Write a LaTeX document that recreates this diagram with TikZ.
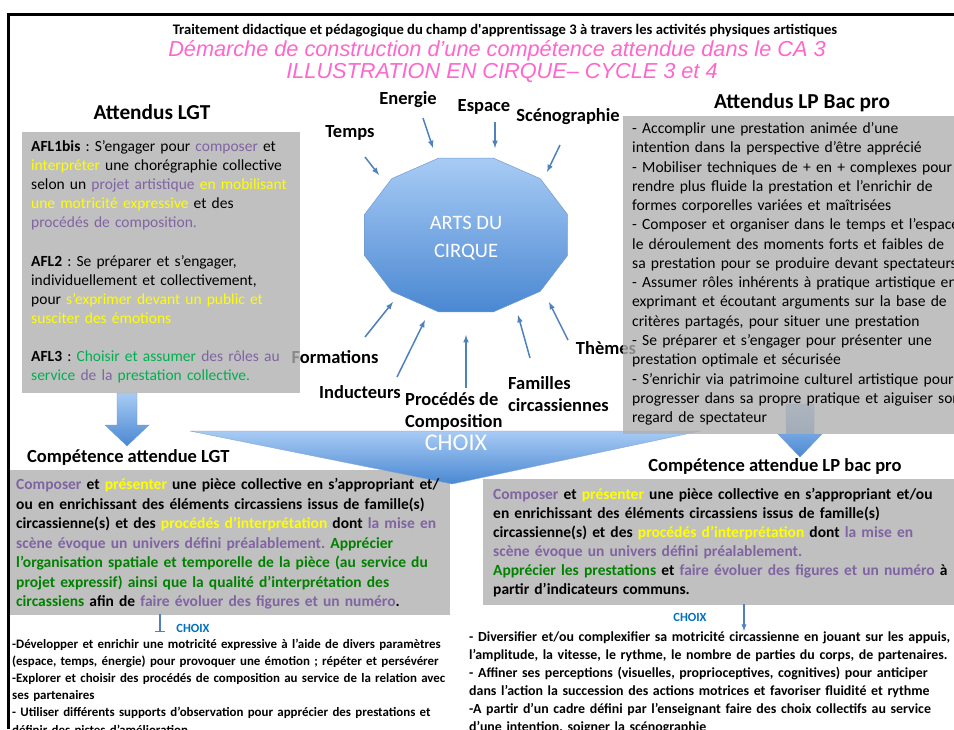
\documentclass[tikz,border=0pt]{standalone}
\usepackage{fontspec}
\setmainfont{Carlito}
\newfontfamily\arialit{Liberation Sans}
\usetikzlibrary{calc,positioning,arrows}
\frenchspacing

\definecolor{violetc}{RGB}{128,100,162}
\definecolor{jaunec}{RGB}{255,255,0}
\definecolor{vertc}{RGB}{0,176,80}
\definecolor{vertf}{RGB}{0,130,0}
\definecolor{rosec}{RGB}{255,102,204}
\definecolor{bleuc}{RGB}{0,112,192}
\definecolor{bleuf}{RGB}{79,129,189}
\definecolor{bleuclair}{RGB}{168,203,245}
\definecolor{bleumoyen}{RGB}{74,136,210}
\definecolor{grisboite}{RGB}{175,175,175}

\newcommand{\vio}[1]{\textcolor{violetc}{#1}}
\newcommand{\jau}[1]{\textcolor{jaunec}{#1}}
\newcommand{\ver}[1]{\textcolor{vertc}{#1}}
\newcommand{\verf}[1]{\textcolor{vertf}{#1}}
% fleche bloc vers le bas : x, haut, debut pointe, bout, largeur tige, largeur pointe
\newcommand{\flechebloc}[6]
	{
	\shade[top color=bleuclair,bottom color=bleumoyen,draw=bleuf!80,line width=0.4pt]
	(#1-#5/2,#2) -- (#1+#5/2,#2) -- (#1+#5/2,#3) -- (#1+#6/2,#3) -- (#1,#4)
	-- (#1-#6/2,#3) -- (#1-#5/2,#3) -- cycle;
	}

\tikzset{
	boite/.style={fill=grisboite,fill opacity=0.79},
	etiquette/.style={font=\fontsize{18.5}{22}\selectfont\bfseries,inner sep=0pt},
	titrebloc/.style={font=\fontsize{18.5}{21}\selectfont\bfseries,inner sep=0pt},
	grandtitre/.style={font=\fontsize{21.3}{24}\selectfont\bfseries,inner sep=0pt},
	fleche/.style={-latex,line width=1.5pt,draw=bleuf},
	corps/.style={align=left,anchor=base west,inner sep=0pt},
}

\begin{document}
\begin{tikzpicture}[x=1pt,y=-1pt]
\useasboundingbox (0,0) rectangle (954,729);

% cadre
\draw[line width=3pt] (8,729) -- (8,14) -- (954,14);

% en-tete
\node[font=\fontsize{14.6}{16}\selectfont\bfseries] (entete) at (505,31)
	{Traitement didactique et pédagogique du champ d\textquotesingle apprentissage 3 à travers les activités physiques artistiques};
\node[font=\arialit\itshape\fontsize{21.7}{24}\selectfont,text=rosec] (titre) at (497,51)
	{Démarche de construction d’une compétence attendue dans le CA 3};
\node[font=\arialit\itshape\fontsize{21.7}{24}\selectfont,text=rosec] (soustitre) at (502,73)
	{ILLUSTRATION EN CIRQUE– CYCLE 3 et 4};

% le polygone central
\shade[top color=bleuclair,bottom color=bleumoyen,draw=bleuf!80,line width=0.5pt]
	plot[samples=13,domain=15:375] ({466+105*cos(\x)},{235-79.7*sin(\x)}) -- cycle;
\node[text=white,font=\fontsize{20.5}{28}\selectfont,align=center] (cirque) at (466,238) {ARTS DU\\CIRQUE};

% les parametres autour
\node[etiquette] (temps) at (350,133) {Temps};
\node[etiquette] (energie) at (408,100) {Energie};
\node[etiquette] (espace) at (484,107) {Espace};
\node[etiquette] (sceno) at (568,117) {Scénographie};
\node[etiquette] (formations) at (335,357) {Formations};
\node[etiquette] (inducteurs) at (360,392) {Inducteurs};
\node[etiquette,align=left,anchor=west] (procedes) at (405,411) {Procédés de\\Composition};
\node[etiquette,align=left,anchor=west] (familles) at (508,394) {Familles\\circassiennes};
\node[etiquette] (themes) at (606,348) {Thèmes};

% les fleches vers le polygone
\coordinate (t1) at (365,157); \coordinate (t2) at (379,175);
\coordinate (e1) at (423,118); \coordinate (e2) at (433,148);
\coordinate (s1) at (495,122); \coordinate (s2) at (495,148);
\coordinate (g1) at (560,145); \coordinate (g2) at (547,172);
\coordinate (f1) at (365,337); \coordinate (f2) at (393,302);
\coordinate (i1) at (397,377); \coordinate (i2) at (425,320);
\coordinate (p1) at (466,388); \coordinate (p2) at (466,335);
\coordinate (c1) at (530,358); \coordinate (c2) at (518,315);
\coordinate (h1) at (568,340); \coordinate (h2) at (549,302);
\draw[fleche] (t1) -- (t2);
\draw[fleche] (e1) -- (e2);
\draw[fleche] (s1) -- (s2);
\draw[fleche] (g1) -- (g2);
\draw[fleche] (f1) -- (f2);
\draw[fleche] (i1) -- (i2);
\draw[fleche] (p1) -- (p2);
\draw[fleche] (c1) -- (c2);
\draw[fleche] (h1) -- (h2);

% competences attendues (fonds)
\fill[boite] (10,470) rectangle (450,615);
\fill[boite] (483,479) rectangle (954,605);

% grande fleche CHOIX
\shade[top color=bleuclair,bottom color=bleumoyen,draw=bleuf!70,line width=0.4pt]
	(190,431) -- (700,431) -- (452,484) -- cycle;
\node[text=white,font=\fontsize{24}{28}\selectfont] (choix) at (456,443) {CHOIX};

% fleches blocs
\flechebloc{127}{393}{425}{446}{20}{44}
\flechebloc{800}{404}{434}{457}{28}{44}

% attendus (fonds)
\fill[boite] (22,132) rectangle (300,393);
\fill[boite] (623,116) rectangle (954,434);

% titres
\node[grandtitre] (attlgt) at (152,112) {Attendus LGT};
\node[grandtitre] (attlp) at (802,103) {Attendus LP Bac pro};
\node[titrebloc,anchor=west] (complgt) at (27,457) {Compétence attendue LGT};
\node[titrebloc] (complp) at (775,466) {Compétence attendue LP bac pro};

% textes des attendus
\node[corps,text width=320pt,font=\fontsize{15.5}{19.1}\selectfont] (afl) at (31,151.5)
	{\textbf{AFL1bis} : S’engager pour \vio{composer} et\\
	\jau{interpréter} une chorégraphie collective\\
	selon un \vio{projet artistique} \jau{en mobilisant}\\
	\jau{une motricité expressive} et des\\
	\vio{procédés de composition.}\\[19.1pt]
	\textbf{AFL2} : Se préparer et s’engager,\\
	individuellement et collectivement,\\
	pour \jau{s’exprimer devant un public et}\\
	\jau{susciter des émotions}\\[19.1pt]
	\textbf{AFL3} : \ver{Choisir et assumer} \vio{des rôles au}\\
	\ver{service} \vio{de la} \ver{prestation collective.}};

\node[corps,text width=380pt,font=\fontsize{15.6}{19.27}\selectfont] (lpbac) at (632,133.5)
	{- Accomplir une prestation animée d’une\\
	intention dans la perspective d’être apprécié\\
	- Mobiliser techniques de + en + complexes pour\\
	rendre plus fluide la prestation et l’enrichir de\\
	formes corporelles variées et maîtrisées\\
	- Composer et organiser dans le temps et l’espace\\
	le déroulement des moments forts et faibles de\\
	sa prestation pour se produire devant spectateurs\\
	- Assumer rôles inhérents à pratique artistique en\\
	exprimant et écoutant arguments sur la base de\\
	critères partagés, pour situer une prestation\\
	- Se préparer et s’engager pour présenter une\\
	prestation optimale et sécurisée\\
	- S’enrichir via patrimoine culturel artistique pour\\
	progresser dans sa propre pratique et aiguiser son\\
	regard de spectateur};

% textes des competences
\node[corps,text width=470pt,font=\fontsize{15.5}{19.5}\selectfont\bfseries] (txtlgt) at (16,489.5)
	{\vio{Composer} et \jau{présenter} une pièce collective en s’appropriant et/\\
	ou en enrichissant des éléments circassiens issus de famille(s)\\
	circassienne(s) et des \jau{procédés d’interprétation} dont \vio{la mise en}\\
	\vio{scène évoque un univers défini préalablement.} \verf{Apprécier}\\
	\verf{l’organisation spatiale et temporelle de la pièce (au service du}\\
	\verf{projet expressif) ainsi que la qualité d’interprétation des}\\
	\verf{circassiens} afin de \vio{faire évoluer des figures et un numéro}.};

\node[corps,text width=490pt,font=\fontsize{15.5}{19}\selectfont\bfseries] (txtlp) at (493,499.5)
	{\vio{Composer} et \jau{présenter} une pièce collective en s’appropriant et/ou\\
	en enrichissant des éléments circassiens issus de famille(s)\\
	circassienne(s) et des \jau{procédés d’interprétation} dont \vio{la mise en}\\
	\vio{scène évoque un univers défini préalablement.}\\
	\verf{Apprécier les prestations} et \vio{faire évoluer des figures et un numéro} à\\
	partir d’indicateurs communs.};

% petites fleches CHOIX
\coordinate (a1) at (160,614); \coordinate (a2) at (160,632);
\draw[bleuf,line width=1.5pt,-|] (a1) -- (a2);
\coordinate (b1) at (744,604); \coordinate (b2) at (744,631);
\draw[bleuf,line width=1.3pt,-latex] (b1) -- (b2);
\node[font=\fontsize{12.5}{14}\selectfont\bfseries,text=bleuc] (choixg) at (193,628) {CHOIX};
\node[font=\fontsize{12.5}{14}\selectfont\bfseries,text=bleuc] (choixd) at (690,617) {CHOIX};

% choix LGT et LP
\node[corps,text width=480pt,font=\fontsize{12.9}{17.2}\selectfont\bfseries] (choixlgt) at (12,648)
	{-Développer et enrichir une motricité expressive à l’aide de divers paramètres\\
	(espace, temps, énergie) pour provoquer une émotion ; répéter et persévérer\\
	-Explorer et choisir des procédés de composition au service de la relation avec\\
	ses partenaires\\
	- Utiliser différents supports d’observation pour apprécier des prestations et\\
	définir des pistes d’amélioration};

\node[corps,text width=540pt,font=\fontsize{13.9}{18}\selectfont\bfseries] (choixlp) at (469,641)
	{- Diversifier et/ou complexifier sa motricité circassienne en jouant sur les appuis,\\
	l’amplitude, la vitesse, le rythme, le nombre de parties du corps, de partenaires.\\
	- Affiner ses perceptions (visuelles, proprioceptives, cognitives) pour anticiper\\
	dans l’action la succession des actions motrices et favoriser fluidité et rythme\\
	-A partir d’un cadre défini par l’enseignant faire des choix collectifs au service\\
	d’une intention, soigner la scénographie};

\end{tikzpicture}
\end{document}
